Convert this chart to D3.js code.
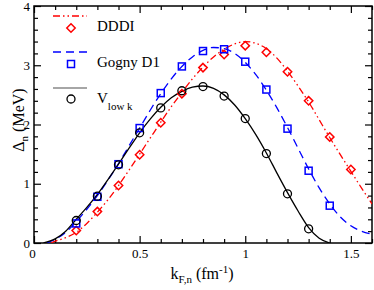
<!DOCTYPE html>
<html>
<head>
<meta charset="utf-8">
<script src="https://cdn.jsdelivr.net/npm/d3@7"></script>
<style>
  body { margin: 0; background: #fff; }
  .axis path { display: none; }
  .axis line { stroke: #000; stroke-width: 1.2; }
</style>
</head>
<body>
<div id="chart"></div>
<script>
// Symbols (calculated points)
const kDddi = [0.2, 0.3, 0.4, 0.5, 0.6, 0.7, 0.8, 0.9, 1.0, 1.1, 1.2, 1.3, 1.4, 1.5];
const dddiPts = [0.21, 0.53, 0.97, 1.49, 2.03, 2.52, 2.96, 3.18, 3.33, 3.22, 2.89, 2.40, 1.79, 1.24];
const kGogny = [0.2, 0.3, 0.4, 0.5, 0.6, 0.7, 0.8, 0.9, 1.0, 1.1, 1.2, 1.3, 1.4];
const gognyPts = [0.33, 0.78, 1.33, 1.94, 2.53, 2.98, 3.24, 3.27, 3.06, 2.59, 1.93, 1.22, 0.63];
const kVlowk = [0.2, 0.3, 0.4, 0.5, 0.6, 0.7, 0.8, 0.9, 1.0, 1.1, 1.2, 1.3];
const vlowkPts = [0.38, 0.79, 1.32, 1.86, 2.28, 2.57, 2.64, 2.48, 2.10, 1.51, 0.83, 0.24];

// Curves
const kDddiCurve = [0.08, 0.1, 0.15, 0.2, 0.25, 0.3, 0.35, 0.4, 0.45, 0.5, 0.55, 0.6, 0.65, 0.7, 0.75, 0.8, 0.85, 0.9, 0.95, 1.0, 1.05, 1.1, 1.15, 1.2, 1.25, 1.3, 1.35, 1.4, 1.45, 1.5, 1.55, 1.6];
const dddiCurve = [0, 0.03, 0.09, 0.18, 0.33, 0.52, 0.73, 0.97, 1.23, 1.50, 1.77, 2.04, 2.30, 2.54, 2.77, 2.97, 3.14, 3.27, 3.36, 3.40, 3.37, 3.28, 3.12, 2.90, 2.65, 2.38, 2.08, 1.78, 1.49, 1.21, 0.93, 0.66];
const kGognyCurve = [0.06, 0.1, 0.15, 0.2, 0.25, 0.3, 0.35, 0.4, 0.45, 0.5, 0.55, 0.6, 0.65, 0.7, 0.75, 0.8, 0.85, 0.9, 0.95, 1.0, 1.05, 1.1, 1.15, 1.2, 1.25, 1.3, 1.35, 1.4, 1.45, 1.5, 1.55, 1.6];
const gognyCurve = [0, 0.06, 0.18, 0.36, 0.57, 0.80, 1.06, 1.34, 1.64, 1.94, 2.24, 2.52, 2.77, 2.98, 3.14, 3.25, 3.30, 3.28, 3.20, 3.05, 2.84, 2.58, 2.28, 1.95, 1.60, 1.25, 0.93, 0.66, 0.44, 0.29, 0.20, 0.15];
const kVlowkCurve = [0.045, 0.1, 0.15, 0.2, 0.25, 0.3, 0.35, 0.4, 0.45, 0.5, 0.55, 0.6, 0.65, 0.7, 0.75, 0.8, 0.85, 0.9, 0.95, 1.0, 1.05, 1.1, 1.15, 1.2, 1.25, 1.3, 1.35, 1.4];
const vlowkCurve = [0, 0.07, 0.20, 0.40, 0.60, 0.82, 1.07, 1.33, 1.60, 1.86, 2.09, 2.29, 2.45, 2.56, 2.63, 2.65, 2.61, 2.50, 2.33, 2.10, 1.83, 1.52, 1.18, 0.85, 0.54, 0.26, 0.08, 0];

const xTicks = [0, 0.5, 1, 1.5];
const yTicks = [0, 1, 2, 3, 4];
const xMinor = [0.1, 0.2, 0.3, 0.4, 0.6, 0.7, 0.8, 0.9, 1.1, 1.2, 1.3, 1.4, 1.6];
const yMinor = [0.2, 0.4, 0.6, 0.8, 1.2, 1.4, 1.6, 1.8, 2.2, 2.4, 2.6, 2.8, 3.2, 3.4, 3.6, 3.8];

const FONT = '"Liberation Serif", "Times New Roman", serif';
const W = 374, H = 290;
const margin = {top: 6, right: 2, bottom: 47, left: 34};
const width = W - margin.left - margin.right;
const height = H - margin.top - margin.bottom;

const svg = d3.select('#chart').append('svg')
    .attr('width', W)
    .attr('height', H)
    .attr('font-family', FONT)
    .style('display', 'block');

const g = svg.append('g')
    .attr('transform', `translate(${margin.left},${margin.top})`);

const x = d3.scaleLinear().domain([0, 1.6]).range([0, width]);
const y = d3.scaleLinear().domain([0, 4]).range([height, 0]);

svg.append('defs').append('clipPath').attr('id', 'clip')
    .append('rect').attr('width', width).attr('height', height);

// Helper: axis group with serif labels
const addAxis = (axis, tx, ty) => {
    const a = g.append('g').attr('class', 'axis')
        .attr('transform', `translate(${tx},${ty})`)
        .call(axis)
        .attr('font-family', FONT)
        .attr('font-size', 13);
    a.selectAll('text').attr('fill', '#000');
    return a;
};

// Axes (ticks pointing inward on all four sides)
const xAxisG = addAxis(d3.axisBottom(x).tickValues(xTicks).tickSizeInner(-7).tickSizeOuter(0).tickPadding(6)
    .tickFormat(d => d === 0 ? '0' : String(d)), 0, height);
xAxisG.selectAll('text').filter(d => d === 0).attr('transform', 'translate(-2,0)');
addAxis(d3.axisBottom(x).tickValues(xMinor).tickSizeInner(-4).tickSizeOuter(0).tickFormat(''), 0, height);
addAxis(d3.axisTop(x).tickValues(xTicks).tickSizeInner(-7).tickSizeOuter(0).tickFormat(''), 0, 0);
addAxis(d3.axisTop(x).tickValues(xMinor).tickSizeInner(-4).tickSizeOuter(0).tickFormat(''), 0, 0);

addAxis(d3.axisLeft(y).tickValues(yTicks).tickSizeInner(-7).tickSizeOuter(0).tickPadding(4)
    .tickFormat(d3.format('d')), 0, 0);
addAxis(d3.axisLeft(y).tickValues(yMinor).tickSizeInner(-4).tickSizeOuter(0).tickFormat(''), 0, 0);
addAxis(d3.axisRight(y).tickValues(yTicks).tickSizeInner(-7).tickSizeOuter(0).tickFormat(''), width, 0);
addAxis(d3.axisRight(y).tickValues(yMinor).tickSizeInner(-4).tickSizeOuter(0).tickFormat(''), width, 0);

// Frame
g.append('rect')
    .attr('width', width).attr('height', height)
    .attr('fill', 'none').attr('stroke', '#000').attr('stroke-width', 1.5);

// Curves
const line = d3.line().x(d => x(d[0])).y(d => y(d[1])).curve(d3.curveMonotoneX);
const series = [
    {k: kDddiCurve, v: dddiCurve, color: '#ff0000', dash: '7,3,1.5,3,1.5,3'},
    {k: kGognyCurve, v: gognyCurve, color: '#0000ff', dash: '8,5'},
    {k: kVlowkCurve, v: vlowkCurve, color: '#000000', dash: null},
];
const curves = g.append('g').attr('clip-path', 'url(#clip)');
series.forEach(s => {
    curves.append('path')
        .datum(s.k.map((k, i) => [k, s.v[i]]))
        .attr('d', line)
        .attr('fill', 'none')
        .attr('stroke', s.color)
        .attr('stroke-width', 1.3)
        .attr('stroke-dasharray', s.dash);
});

// Symbols
const diamond = (cx, cy, r) => `M${cx},${cy - r}L${cx + r},${cy}L${cx},${cy + r}L${cx - r},${cy}Z`;
g.append('g').selectAll('path')
    .data(kDddi.map((k, i) => [k, dddiPts[i]]))
    .enter().append('path')
    .attr('d', d => diamond(x(d[0]), y(d[1]), 4.2))
    .attr('fill', 'none').attr('stroke', '#ff0000').attr('stroke-width', 1.5);
g.append('g').selectAll('rect')
    .data(kGogny.map((k, i) => [k, gognyPts[i]]))
    .enter().append('rect')
    .attr('x', d => x(d[0]) - 3.5).attr('y', d => y(d[1]) - 3.5)
    .attr('width', 7).attr('height', 7)
    .attr('fill', 'none').attr('stroke', '#0000ff').attr('stroke-width', 1.5);
g.append('g').selectAll('circle')
    .data(kVlowk.map((k, i) => [k, vlowkPts[i]]))
    .enter().append('circle')
    .attr('cx', d => x(d[0])).attr('cy', d => y(d[1])).attr('r', 4)
    .attr('fill', 'none').attr('stroke', '#000').attr('stroke-width', 1.3);

// Legend
const legend = svg.append('g');
const legItems = [
    {color: '#ff0000', dash: '7,3,1.5,3,1.5,3', y: 16, label: 'DDDI', sym: 'diamond'},
    {color: '#0000ff', dash: '8,5', y: 52, label: 'Gogny D1', sym: 'square'},
    {color: '#888888', dash: null, y: 88, label: 'V', sub: 'low k', sym: 'circle'},
];
legItems.forEach(it => {
    legend.append('line')
        .attr('x1', 53).attr('x2', 87).attr('y1', it.y).attr('y2', it.y)
        .attr('stroke', it.color).attr('stroke-width', 1.3).attr('stroke-dasharray', it.dash);
    const sy = it.y + 12;
    if (it.sym === 'diamond') {
        legend.append('path').attr('d', diamond(71, sy, 4.2))
            .attr('fill', 'none').attr('stroke', '#ff0000').attr('stroke-width', 1.5);
    } else if (it.sym === 'square') {
        legend.append('rect').attr('x', 67.5).attr('y', sy - 3.5).attr('width', 7).attr('height', 7)
            .attr('fill', 'none').attr('stroke', '#0000ff').attr('stroke-width', 1.5);
    } else {
        legend.append('circle').attr('cx', 71).attr('cy', sy - 1).attr('r', 4)
            .attr('fill', 'none').attr('stroke', '#000').attr('stroke-width', 1.3);
    }
    const t = legend.append('text')
        .attr('x', 97).attr('y', it.y + 15)
        .attr('font-size', 15);
    t.append('tspan').text(it.label);
    if (it.sub) t.append('tspan').attr('dy', 7).attr('font-size', 11).text(it.sub);
});

// Axis titles
const xt = svg.append('text')
    .attr('x', 202).attr('y', 279)
    .attr('text-anchor', 'middle')
    .attr('font-size', 16);
xt.append('tspan').text('k');
xt.append('tspan').attr('dy', 4).attr('font-size', 11).text('F,n');
xt.append('tspan').attr('dy', -4).text(' (fm');
xt.append('tspan').attr('dy', -6).attr('font-size', 11).text('-1');
xt.append('tspan').attr('dy', 6).text(')');

const yt = svg.append('text')
    .attr('transform', 'translate(24,120) rotate(-90)')
    .attr('text-anchor', 'middle')
    .attr('font-size', 16);
yt.append('tspan').text('Δ');
yt.append('tspan').attr('dy', 4).attr('font-size', 11).text('n');
yt.append('tspan').attr('dy', -4).text(' (MeV)');
</script>
</body>
</html>
